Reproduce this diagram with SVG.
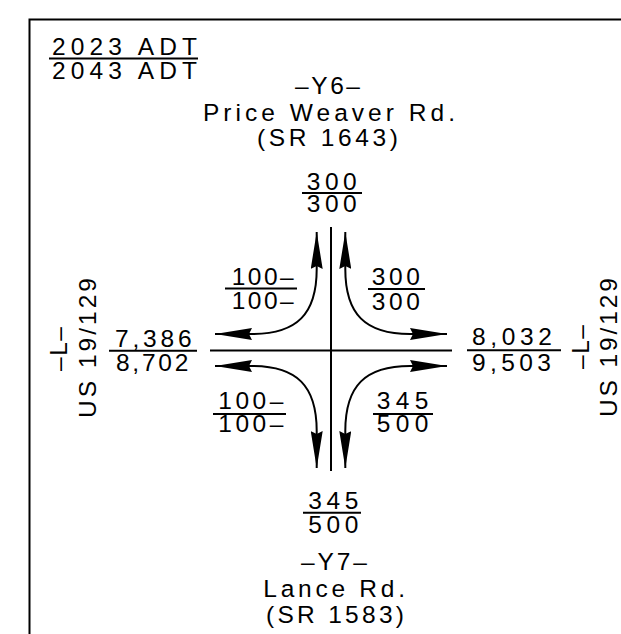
<svg xmlns="http://www.w3.org/2000/svg" width="621" height="634" viewBox="0 0 621 634">
<style>
text{font-family:"Liberation Sans",Arial,sans-serif;font-size:24.5px;fill:#000}
.ln{stroke:#000;stroke-width:2;fill:none}
.arr{stroke:#000;stroke-width:2;fill:none;marker-start:url(#ah);marker-end:url(#ah)}
</style>
<defs>
<marker id="ah" viewBox="0 0 37 12" refX="37" refY="6" markerWidth="37" markerHeight="12" markerUnits="userSpaceOnUse" orient="auto-start-reverse">
<path d="M0,0 L37,6 L0,12 L3,6 Z" fill="#000"/>
</marker>
</defs>
<rect width="621" height="634" fill="#fff"/>
<path class="ln" d="M29.5,634 V19.5 H621"/>
<g id="legend">
<text x="52" y="55" textLength="145" lengthAdjust="spacing">2023 ADT</text>
<line class="ln" x1="49" y1="58.5" x2="198" y2="58.5"/>
<text x="52" y="79" textLength="145" lengthAdjust="spacing">2043 ADT</text>
</g>
<g id="road-y6">
<text x="295" y="94.3" textLength="65" lengthAdjust="spacing">–Y6–</text>
<text x="203" y="120.7" textLength="252" lengthAdjust="spacing">Price Weaver Rd.</text>
<text x="257" y="146" textLength="141" lengthAdjust="spacing">(SR 1643)</text>
</g>
<g id="road-y7">
<text x="301" y="570" textLength="66" lengthAdjust="spacing">–Y7–</text>
<text x="263.3" y="596.7" textLength="141.7" lengthAdjust="spacing">Lance Rd.</text>
<text x="266" y="623" textLength="138" lengthAdjust="spacing">(SR 1583)</text>
</g>
<g id="road-l-west">
<text transform="translate(67,349) rotate(-90)" x="-22" y="0" textLength="44" lengthAdjust="spacing">–L–</text>
<text transform="translate(95.5,348) rotate(-90)" x="-70" y="0" textLength="140" lengthAdjust="spacing">US 19/129</text>
</g>
<g id="road-l-east">
<text transform="translate(588.5,347) rotate(-90)" x="-22" y="0" textLength="44" lengthAdjust="spacing">–L–</text>
<text transform="translate(616.5,347.5) rotate(-90)" x="-69.5" y="0" textLength="139" lengthAdjust="spacing">US 19/129</text>
</g>
<g id="adt-north">
<text x="306.7" y="190" textLength="50" lengthAdjust="spacing">300</text>
<line class="ln" x1="302" y1="193" x2="362" y2="193"/>
<text x="306.7" y="212" textLength="50" lengthAdjust="spacing">300</text>
</g>
<g id="adt-south">
<text x="308.3" y="509.3" textLength="50" lengthAdjust="spacing">345</text>
<line class="ln" x1="303" y1="512.7" x2="361" y2="512.7"/>
<text x="308.3" y="533.3" textLength="50" lengthAdjust="spacing">500</text>
</g>
<g id="adt-west">
<text x="115" y="347" textLength="76.7" lengthAdjust="spacing">7,386</text>
<line class="ln" x1="109" y1="350.7" x2="197" y2="350.7"/>
<text x="116" y="371" textLength="72.3" lengthAdjust="spacing">8,702</text>
</g>
<g id="adt-east">
<text x="472" y="345" textLength="80" lengthAdjust="spacing">8,032</text>
<line class="ln" x1="467" y1="350.3" x2="561" y2="350.3"/>
<text x="472" y="371" textLength="79" lengthAdjust="spacing">9,503</text>
</g>
<g id="turn-nw">
<text x="231.7" y="284.5" textLength="62" lengthAdjust="spacing">100–</text>
<line class="ln" x1="225" y1="288.5" x2="297" y2="288.5"/>
<text x="231.7" y="309.3" textLength="62" lengthAdjust="spacing">100–</text>
</g>
<g id="turn-ne">
<text x="371.7" y="284.5" textLength="48.3" lengthAdjust="spacing">300</text>
<line class="ln" x1="368" y1="289" x2="425" y2="289"/>
<text x="371.7" y="310" textLength="48.3" lengthAdjust="spacing">300</text>
</g>
<g id="turn-sw">
<text x="218.3" y="408.5" textLength="65" lengthAdjust="spacing">100–</text>
<line class="ln" x1="213" y1="414" x2="286" y2="414"/>
<text x="218.3" y="431.7" textLength="65" lengthAdjust="spacing">100–</text>
</g>
<g id="turn-se">
<text x="376.7" y="408.5" textLength="51.6" lengthAdjust="spacing">345</text>
<line class="ln" x1="373" y1="414" x2="433" y2="414"/>
<text x="376.7" y="431.7" textLength="51.6" lengthAdjust="spacing">500</text>
</g>
<g id="connectors">
<line class="ln" x1="331" y1="227" x2="331" y2="471"/>
<line class="ln" x1="210" y1="350.5" x2="452" y2="350.5"/>
<path class="arr" d="M215,334 L252,334 C297,334 316.7,314 316.7,269 L316.7,232"/>
<path class="arr" d="M447,334 L410,334 C365,334 345.3,314 345.3,269 L345.3,232"/>
<path class="arr" d="M215,366 L252,366 C297,366 316.7,386 316.7,431 L316.7,468"/>
<path class="arr" d="M447,366 L410,366 C365,366 345.3,386 345.3,431 L345.3,468"/>
</g>
</svg>
